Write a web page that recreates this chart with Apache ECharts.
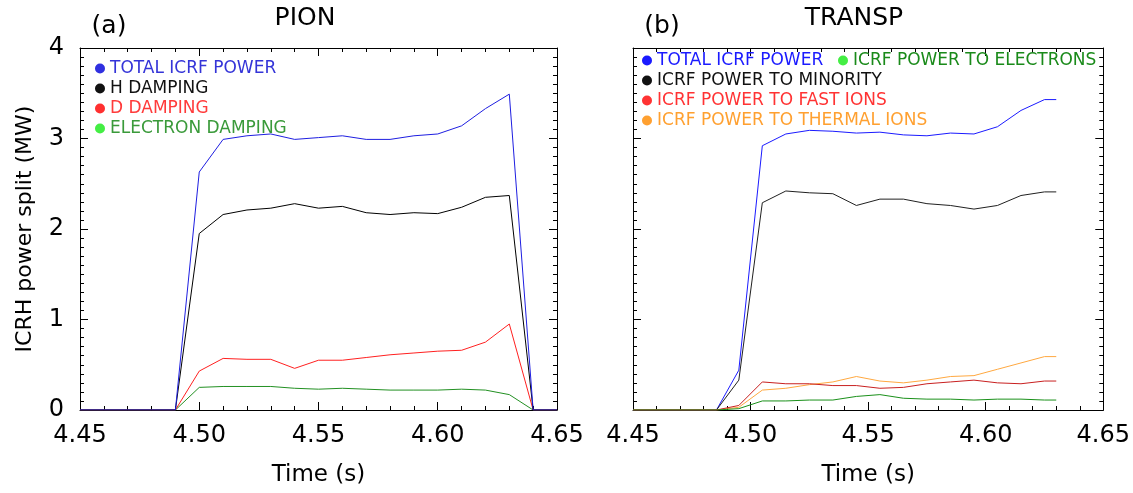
<!DOCTYPE html>
<html>
<head>
<meta charset="utf-8">
<script src="https://cdn.jsdelivr.net/npm/echarts@6/dist/echarts.min.js"></script>
<style>
html, body { margin: 0; padding: 0; background: #fff; }
#chart { width: 1133px; height: 493px; }
</style>
</head>
<body>
<div id="chart"></div>
<script>
// (a) PION
const pionTime = [4.45, 4.46, 4.47, 4.48, 4.49, 4.50, 4.51, 4.52, 4.53, 4.54, 4.55, 4.56, 4.57, 4.58, 4.59, 4.60, 4.61, 4.62, 4.63, 4.64, 4.65]
const pionTotal = [0, 0, 0, 0, 0, 2.63, 2.99, 3.03, 3.05, 2.99, 3.01, 3.03, 2.99, 2.99, 3.03, 3.05, 3.14, 3.33, 3.49, 0, 0]
const pionH = [0, 0, 0, 0, 0, 1.95, 2.16, 2.21, 2.23, 2.28, 2.23, 2.25, 2.18, 2.16, 2.18, 2.17, 2.24, 2.35, 2.37, 0, 0]
const pionD = [0, 0, 0, 0, 0, 0.43, 0.57, 0.56, 0.56, 0.46, 0.55, 0.55, 0.58, 0.61, 0.63, 0.65, 0.66, 0.75, 0.95, 0, 0]
const pionElec = [0, 0, 0, 0, 0, 0.25, 0.26, 0.26, 0.26, 0.24, 0.23, 0.24, 0.23, 0.22, 0.22, 0.22, 0.23, 0.22, 0.17, 0, 0]

// (b) TRANSP
const transpTime = [4.45, 4.4855, 4.495, 4.505, 4.515, 4.525, 4.535, 4.545, 4.555, 4.565, 4.575, 4.585, 4.595, 4.605, 4.615, 4.625, 4.63]
const transpTotal = [0, 0, 0.44, 2.92, 3.05, 3.09, 3.08, 3.06, 3.07, 3.04, 3.03, 3.06, 3.05, 3.13, 3.31, 3.43, 3.43]
const transpMinority = [0, 0, 0.33, 2.29, 2.42, 2.40, 2.39, 2.26, 2.33, 2.33, 2.28, 2.26, 2.22, 2.26, 2.37, 2.41, 2.41]
const transpFast = [0, 0, 0.05, 0.31, 0.29, 0.29, 0.27, 0.27, 0.24, 0.25, 0.29, 0.31, 0.33, 0.30, 0.29, 0.32, 0.32]
const transpThermal = [0, 0, 0.03, 0.22, 0.24, 0.28, 0.31, 0.37, 0.32, 0.30, 0.33, 0.37, 0.38, 0.45, 0.52, 0.59, 0.59]
const transpElec = [0, 0, 0.015, 0.10, 0.10, 0.11, 0.11, 0.15, 0.17, 0.13, 0.12, 0.12, 0.11, 0.12, 0.12, 0.11, 0.11]

const FONT = 'DejaVu Sans'
const pairs = (t, v) => t.map((x, i) => [x, v[i]])

function xAxisFor(gridIndex, bottom) {
  return {
    type: 'value',
    gridIndex,
    position: bottom ? 'bottom' : 'top',
    min: 4.45,
    max: 4.65,
    interval: 0.05,
    name: bottom ? 'Time (s)' : '',
    nameLocation: 'middle',
    nameGap: 54,
    nameTextStyle: { fontFamily: FONT, fontSize: 23, color: '#000' },
    axisLine: { show: true, onZero: false, lineStyle: { color: '#000', width: 1 } },
    axisTick: { show: true, inside: true, length: 8, lineStyle: { color: '#000' } },
    minorTick: { show: true, splitNumber: 5, length: 4, lineStyle: { color: '#000' } },
    axisLabel: {
      show: bottom,
      fontFamily: FONT,
      fontSize: 24,
      color: '#000',
      margin: 14,
      formatter: (v) => v.toFixed(2),
    },
    splitLine: { show: false },
  }
}

function yAxisFor(gridIndex, left, labels) {
  return {
    type: 'value',
    gridIndex,
    position: left ? 'left' : 'right',
    min: 0,
    max: 4,
    interval: 1,
    name: labels ? 'ICRH power split (MW)' : '',
    nameLocation: 'middle',
    nameGap: 44,
    nameTextStyle: { fontFamily: FONT, fontSize: 22, color: '#000' },
    axisLine: { show: true, onZero: false, lineStyle: { color: '#000', width: 1 } },
    axisTick: { show: true, inside: true, length: 8, lineStyle: { color: '#000' } },
    minorTick: { show: true, splitNumber: 10, length: 4, lineStyle: { color: '#000' } },
    axisLabel: { show: labels, fontFamily: FONT, fontSize: 24, color: '#000', margin: 16 },
    splitLine: { show: false },
  }
}

function line(name, data, color, xi, yi) {
  return {
    name,
    type: 'line',
    data,
    xAxisIndex: xi,
    yAxisIndex: yi,
    showSymbol: false,
    symbol: 'none',
    color,
    lineStyle: { color, width: 1 },
  }
}

function legendItem(name, dot, text) {
  return { name, itemStyle: { color: dot }, textStyle: { color: text } }
}

const legendBase = {
  orient: 'vertical',
  icon: 'circle',
  itemWidth: 10,
  itemHeight: 10,
  itemGap: 3,
  padding: 0,
  selectedMode: false,
  textStyle: { fontFamily: FONT, fontSize: 17, lineHeight: 16 },
}

const chart = echarts.init(document.getElementById('chart'))
chart.setOption({
  animation: false,
  backgroundColor: '#fff',
  title: [
    { text: '(a)', left: 109, top: 14, padding: 0, textAlign: 'center', textStyle: { fontFamily: FONT, fontSize: 25, fontWeight: 'normal', color: '#000' } },
    { text: 'PION', left: 305, top: 6, padding: 0, textAlign: 'center', textStyle: { fontFamily: FONT, fontSize: 25, fontWeight: 'normal', color: '#000' } },
    { text: '(b)', left: 662, top: 14, padding: 0, textAlign: 'center', textStyle: { fontFamily: FONT, fontSize: 25, fontWeight: 'normal', color: '#000' } },
    { text: 'TRANSP', left: 854, top: 6, padding: 0, textAlign: 'center', textStyle: { fontFamily: FONT, fontSize: 25, fontWeight: 'normal', color: '#000' } },
  ],
  legend: [
    Object.assign({}, legendBase, {
      left: 95,
      top: 60,
      data: [
        legendItem('TOTAL ICRF POWER', '#3030e0', '#3434d8'),
        legendItem('H DAMPING', '#111111', '#111111'),
        legendItem('D DAMPING', '#ff3030', '#ff3b3b'),
        legendItem('ELECTRON DAMPING', '#44ee44', '#3a9a3a'),
      ],
    }),
    Object.assign({}, legendBase, {
      left: 642,
      top: 52,
      data: [
        legendItem('TOTAL ICRF POWER', '#1a1aff', '#1a1aff'),
        legendItem('ICRF POWER TO MINORITY', '#111111', '#111111'),
        legendItem('ICRF POWER TO FAST IONS', '#ff3333', '#ff3333'),
        legendItem('ICRF POWER TO THERMAL IONS', '#ffa030', '#ffa030'),
      ],
    }),
    Object.assign({}, legendBase, {
      left: 838,
      top: 52,
      data: [legendItem('ICRF POWER TO ELECTRONS', '#44ee44', '#1a8a1a')],
    }),
  ],
  grid: [
    { left: 80, top: 48, width: 477, height: 362 },
    { left: 633, top: 48, width: 472, height: 362 },
  ],
  xAxis: [xAxisFor(0, true), xAxisFor(0, false), xAxisFor(1, true), xAxisFor(1, false)],
  yAxis: [yAxisFor(0, true, true), yAxisFor(0, false, false), yAxisFor(1, true, false), yAxisFor(1, false, false)],
  series: [
    line('ELECTRON DAMPING', pairs(pionTime, pionElec), '#229022', 0, 0),
    line('D DAMPING', pairs(pionTime, pionD), '#ff2020', 0, 0),
    line('H DAMPING', pairs(pionTime, pionH), '#000000', 0, 0),
    line('TOTAL ICRF POWER', pairs(pionTime, pionTotal), '#1e1ee0', 0, 0),

    line('TOTAL ICRF POWER', pairs(transpTime, transpTotal), '#1a1aff', 2, 2),
    line('ICRF POWER TO MINORITY', pairs(transpTime, transpMinority), '#202020', 2, 2),
    line('ICRF POWER TO THERMAL IONS', pairs(transpTime, transpThermal), '#ffa840', 2, 2),
    line('ICRF POWER TO FAST IONS', pairs(transpTime, transpFast), '#c82020', 2, 2),
    line('ICRF POWER TO ELECTRONS', pairs(transpTime, transpElec), '#1a901a', 2, 2),
  ],
})
</script>
</body>
</html>
